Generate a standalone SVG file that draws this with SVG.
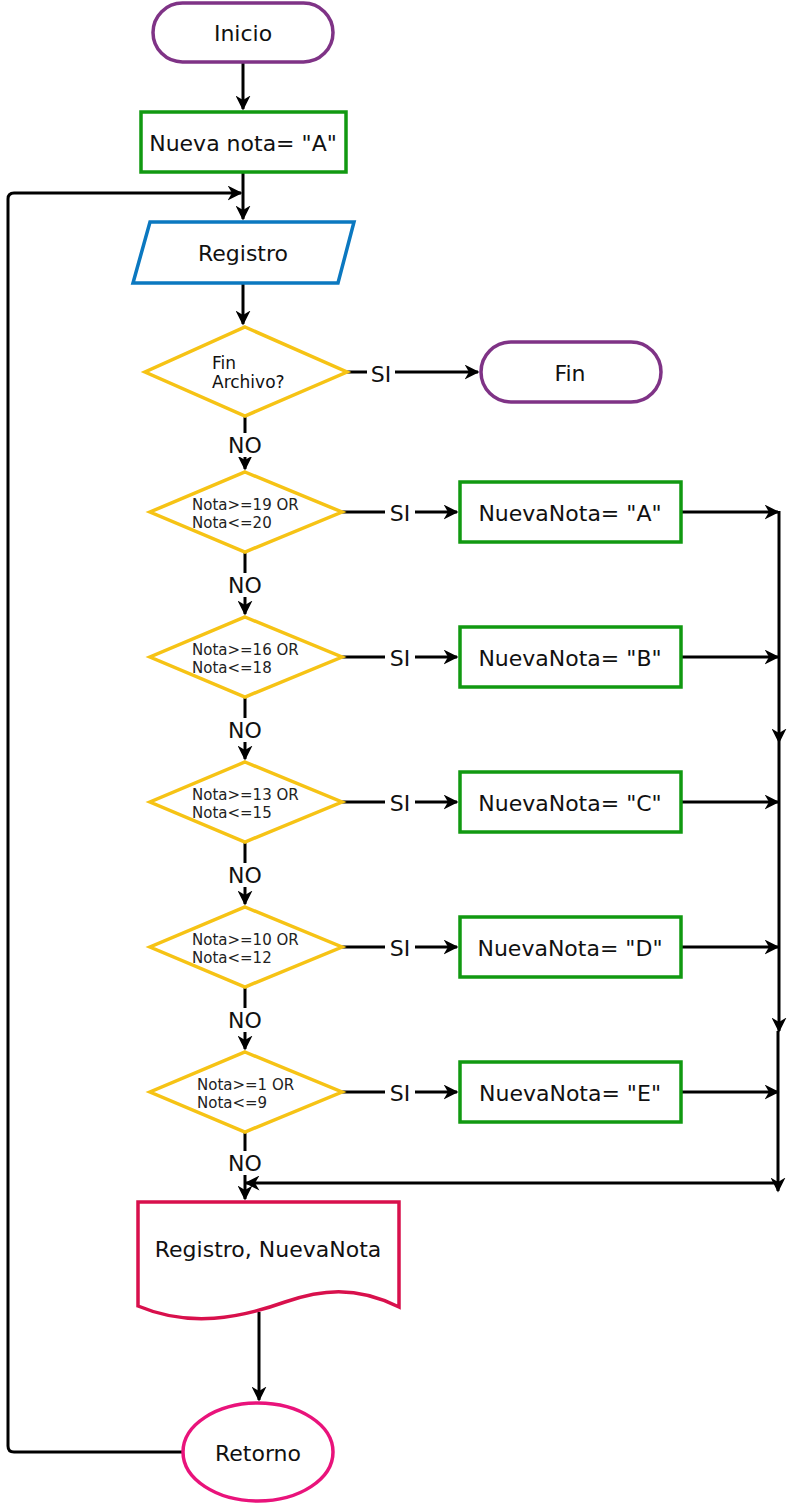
<svg xmlns="http://www.w3.org/2000/svg" width="791" height="1504" viewBox="0 0 791 1504">
<style>
  .t{font-family:"DejaVu Sans","Liberation Sans",sans-serif;font-size:22px;fill:#111;text-anchor:middle;dominant-baseline:central}
  .s{font-family:"DejaVu Sans","Liberation Sans",sans-serif;font-size:15px;fill:#222}
  .m{font-family:"DejaVu Sans","Liberation Sans",sans-serif;font-size:17px;fill:#111}
  .lbl{font-family:"DejaVu Sans","Liberation Sans",sans-serif;font-size:22px;fill:#111;text-anchor:middle;dominant-baseline:central}
  .c{fill:none;stroke:#000;stroke-width:3}
  .term{fill:#fff;stroke:#7f3386;stroke-width:3.5}
  .proc{fill:#fff;stroke:#119911;stroke-width:3.5}
  .dec{fill:#fff;stroke:#f6c315;stroke-width:3.5}
</style>
<defs>
  <marker id="ar" viewBox="0 0 10 10" refX="9" refY="5" markerWidth="5" markerHeight="5" orient="auto" markerUnits="strokeWidth">
    <path d="M0,0 L10,5 L0,10 L3,5 Z" fill="#000"/>
  </marker>
</defs>

<g id="connectors">
  <line class="c" x1="243" y1="62" x2="243" y2="109" marker-end="url(#ar)"/>
  <line class="c" x1="243" y1="172" x2="243" y2="219" marker-end="url(#ar)"/>
  <path class="c" d="M183,1452 H14 Q8,1452 8,1446 V199 Q8,193 14,193 H241" marker-end="url(#ar)"/>
  <line class="c" x1="243" y1="283" x2="243" y2="324" marker-end="url(#ar)"/>
  <line class="c" x1="347" y1="372" x2="478" y2="372" marker-end="url(#ar)"/>
  <line class="c" x1="245" y1="416" x2="245" y2="469" marker-end="url(#ar)"/>
  <line class="c" x1="245" y1="552" x2="245" y2="614" marker-end="url(#ar)"/>
  <line class="c" x1="245" y1="697" x2="245" y2="759" marker-end="url(#ar)"/>
  <line class="c" x1="245" y1="842" x2="245" y2="904" marker-end="url(#ar)"/>
  <line class="c" x1="245" y1="987" x2="245" y2="1049" marker-end="url(#ar)"/>
  <line class="c" x1="245" y1="1132" x2="245" y2="1199" marker-end="url(#ar)"/>
  <line class="c" x1="342" y1="512" x2="457" y2="512" marker-end="url(#ar)"/>
  <line class="c" x1="342" y1="657" x2="457" y2="657" marker-end="url(#ar)"/>
  <line class="c" x1="342" y1="802" x2="457" y2="802" marker-end="url(#ar)"/>
  <line class="c" x1="342" y1="947" x2="457" y2="947" marker-end="url(#ar)"/>
  <line class="c" x1="342" y1="1092" x2="457" y2="1092" marker-end="url(#ar)"/>
  <line class="c" x1="681" y1="512" x2="778" y2="512" marker-end="url(#ar)"/>
  <line class="c" x1="681" y1="657" x2="778" y2="657" marker-end="url(#ar)"/>
  <line class="c" x1="681" y1="802" x2="778" y2="802" marker-end="url(#ar)"/>
  <line class="c" x1="681" y1="947" x2="778" y2="947" marker-end="url(#ar)"/>
  <line class="c" x1="681" y1="1092" x2="778" y2="1092" marker-end="url(#ar)"/>
  <line class="c" x1="779" y1="511" x2="779" y2="742" marker-end="url(#ar)"/>
  <line class="c" x1="779" y1="742" x2="779" y2="1031" marker-end="url(#ar)"/>
  <line class="c" x1="778" y1="1031" x2="778" y2="1191" marker-end="url(#ar)"/>
  <line class="c" x1="778" y1="1183" x2="246" y2="1183" marker-end="url(#ar)"/>
  <line class="c" x1="259" y1="1312" x2="259" y2="1400" marker-end="url(#ar)"/>
  <g>
    <rect x="367" y="361" width="28" height="24" fill="#fff"/>
    <text class="lbl" x="381" y="374">SI</text>
    <rect x="385" y="501" width="30" height="24" fill="#fff"/>
    <text class="lbl" x="400" y="513">SI</text>
    <rect x="385" y="646" width="30" height="24" fill="#fff"/>
    <text class="lbl" x="400" y="658">SI</text>
    <rect x="385" y="791" width="30" height="24" fill="#fff"/>
    <text class="lbl" x="400" y="803">SI</text>
    <rect x="385" y="936" width="30" height="24" fill="#fff"/>
    <text class="lbl" x="400" y="948">SI</text>
    <rect x="385" y="1081" width="30" height="24" fill="#fff"/>
    <text class="lbl" x="400" y="1093">SI</text>
    <rect x="225" y="433" width="40" height="24" fill="#fff"/>
    <text class="lbl" x="245" y="445">NO</text>
    <rect x="225" y="573" width="40" height="24" fill="#fff"/>
    <text class="lbl" x="245" y="585">NO</text>
    <rect x="225" y="718" width="40" height="24" fill="#fff"/>
    <text class="lbl" x="245" y="730">NO</text>
    <rect x="225" y="863" width="40" height="24" fill="#fff"/>
    <text class="lbl" x="245" y="875">NO</text>
    <rect x="225" y="1008" width="40" height="24" fill="#fff"/>
    <text class="lbl" x="245" y="1020">NO</text>
    <rect x="225" y="1151" width="40" height="24" fill="#fff"/>
    <text class="lbl" x="245" y="1163">NO</text>
  </g>
</g>

<g id="inicio">
  <rect class="term" x="153" y="3" width="180" height="59" rx="29.5"/>
  <text class="t" x="243" y="33">Inicio</text>
</g>
<g id="nueva-nota">
  <rect class="proc" x="141" y="112" width="205" height="60"/>
  <text class="t" x="243" y="143">Nueva nota= "A"</text>
</g>
<g id="registro">
  <polygon points="150,222 354,222 338,283 133,283" fill="#fff" stroke="#0b78c0" stroke-width="3.5"/>
  <text class="t" x="243" y="253">Registro</text>
</g>
<g id="fin-archivo">
  <polygon class="dec" points="245,327 347,372 245,416 145,372"/>
  <text class="m" x="212" y="369">Fin</text>
  <text class="m" x="212" y="388">Archivo?</text>
</g>
<g id="fin">
  <rect class="term" x="481" y="342" width="180" height="60" rx="30"/>
  <text class="t" x="570" y="373">Fin</text>
</g>

<g id="d1">
  <polygon class="dec" points="245,472 342,512 245,552 150,512"/>
  <text class="s" x="192" y="510">Nota&gt;=19 OR</text>
  <text class="s" x="192" y="528">Nota&lt;=20</text>
</g>
<g id="a">
  <rect class="proc" x="460" y="482" width="221" height="60"/>
  <text class="t" x="570" y="513">NuevaNota= "A"</text>
</g>
<g id="d2">
  <polygon class="dec" points="245,617 342,657 245,697 150,657"/>
  <text class="s" x="192" y="655">Nota&gt;=16 OR</text>
  <text class="s" x="192" y="673">Nota&lt;=18</text>
</g>
<g id="b">
  <rect class="proc" x="460" y="627" width="221" height="60"/>
  <text class="t" x="570" y="658">NuevaNota= "B"</text>
</g>
<g id="d3">
  <polygon class="dec" points="245,762 342,802 245,842 150,802"/>
  <text class="s" x="192" y="800">Nota&gt;=13 OR</text>
  <text class="s" x="192" y="818">Nota&lt;=15</text>
</g>
<g id="c">
  <rect class="proc" x="460" y="772" width="221" height="60"/>
  <text class="t" x="570" y="803">NuevaNota= "C"</text>
</g>
<g id="d4">
  <polygon class="dec" points="245,907 342,947 245,987 150,947"/>
  <text class="s" x="192" y="945">Nota&gt;=10 OR</text>
  <text class="s" x="192" y="963">Nota&lt;=12</text>
</g>
<g id="d">
  <rect class="proc" x="460" y="917" width="221" height="60"/>
  <text class="t" x="570" y="948">NuevaNota= "D"</text>
</g>
<g id="d5">
  <polygon class="dec" points="245,1052 342,1092 245,1132 150,1092"/>
  <text class="s" x="197" y="1090">Nota&gt;=1 OR</text>
  <text class="s" x="197" y="1108">Nota&lt;=9</text>
</g>
<g id="e">
  <rect class="proc" x="460" y="1062" width="221" height="60"/>
  <text class="t" x="570" y="1093">NuevaNota= "E"</text>
</g>

<g id="salida">
  <path d="M138,1202 H399 V1307 C355,1285 320,1290 285,1302 C240,1318 190,1328 138,1306 Z" fill="#fff" stroke="#d8104c" stroke-width="3.5"/>
  <text class="t" x="268" y="1249">Registro, NuevaNota</text>
</g>
<g id="retorno">
  <ellipse cx="258" cy="1452" rx="75" ry="49" fill="#fff" stroke="#e9137b" stroke-width="3.5"/>
  <text class="t" x="258" y="1453">Retorno</text>
</g>
</svg>
